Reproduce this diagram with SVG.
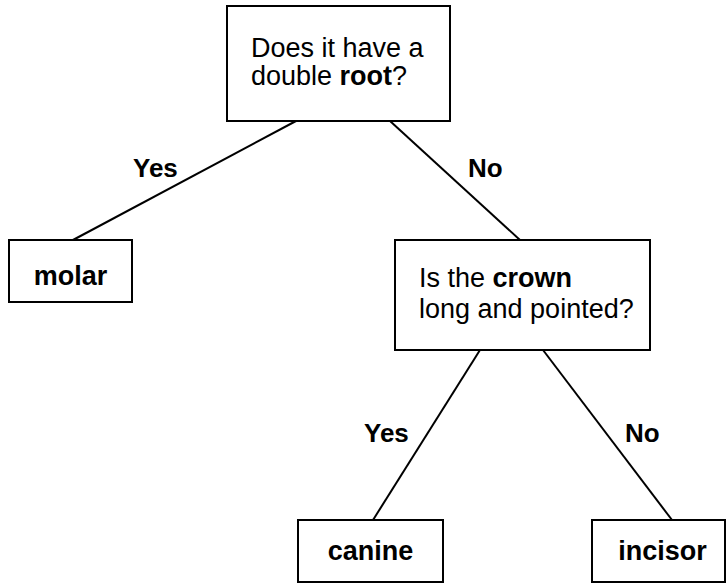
<svg xmlns="http://www.w3.org/2000/svg" width="726" height="584" viewBox="0 0 726 584">
<style>
.box{fill:#fff;stroke:#000;stroke-width:2}
.t{font-family:"Liberation Sans",Arial,sans-serif;font-size:27px;fill:#000}
.b{font-weight:bold}
.lbl{font-family:"Liberation Sans",Arial,sans-serif;font-size:26px;font-weight:bold;fill:#000}
.c{stroke:#000;stroke-width:2;fill:none}
</style>
<rect width="726" height="584" fill="#fff"/>
<g id="connectors">
<line class="c" x1="296" y1="121" x2="73" y2="240"/>
<line class="c" x1="390" y1="121" x2="520" y2="240"/>
<line class="c" x1="480" y1="350" x2="373" y2="520"/>
<line class="c" x1="543" y1="350" x2="672" y2="520"/>
<text class="lbl" x="133" y="177">Yes</text>
<text class="lbl" x="468" y="177">No</text>
<text class="lbl" x="364" y="442">Yes</text>
<text class="lbl" x="625" y="442">No</text>
</g>
<g id="root">
<rect class="box" x="227" y="6" width="223" height="115"/>
<text class="t" x="251" y="57">Does it have a</text>
<text class="t" x="251" y="85">double <tspan class="b">root</tspan>?</text>
</g>
<g id="molar">
<rect class="box" x="9" y="240" width="123" height="62"/>
<text class="t b" x="70.5" y="285" text-anchor="middle">molar</text>
</g>
<g id="crown">
<rect class="box" x="395" y="240" width="255" height="110"/>
<text class="t" x="419" y="287">Is the <tspan class="b">crown</tspan></text>
<text class="t" x="419" y="318">long and pointed?</text>
</g>
<g id="canine">
<rect class="box" x="298" y="520" width="145" height="62"/>
<text class="t b" x="370.5" y="560" text-anchor="middle">canine</text>
</g>
<g id="incisor">
<rect class="box" x="592" y="520" width="133" height="62"/>
<text class="t b" x="662.5" y="560" text-anchor="middle">incisor</text>
</g>
</svg>
